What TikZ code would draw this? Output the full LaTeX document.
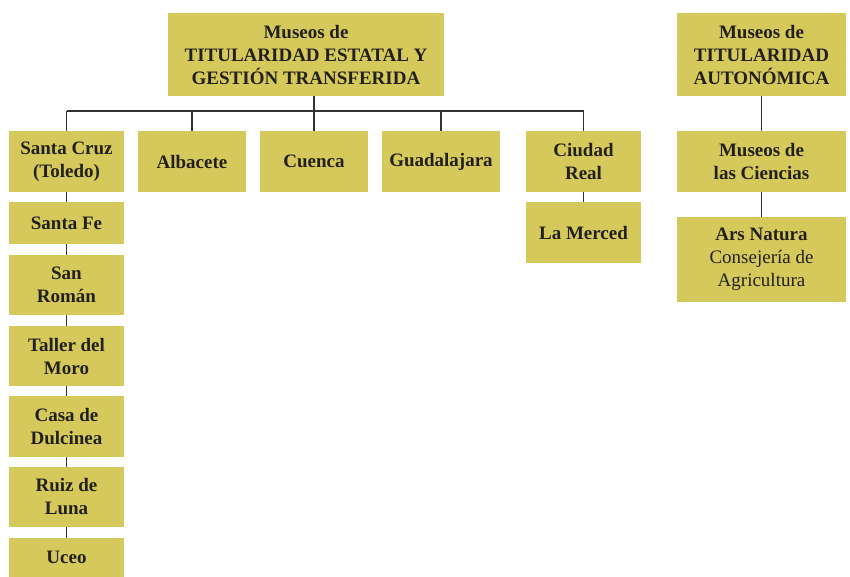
\documentclass[tikz,border=0pt]{standalone}
\usepackage{fontspec}
\setmainfont{Liberation Serif}
\definecolor{boxfill}{RGB}{214,201,92}
\definecolor{linec}{RGB}{50,50,50}
\definecolor{txt}{RGB}{35,32,28}
\tikzset{
  box/.style={fill=boxfill, draw=none, inner sep=0pt, align=center, text=txt,
    font=\fontsize{19}{23}\selectfont\bfseries},
  conn/.style={draw=linec, line width=1.5pt}
}
\newcommand{\bx}[7]{% name, x1, y1, x2, y2, text
  \node[box, minimum width=#4-#2, minimum height=#5-#3] (#1) at ({(#2+#4)/2},{(#3+#5)/2}) {#6};}
\begin{document}
\begin{tikzpicture}[x=1pt,y=-1pt]
\useasboundingbox (0,0) rectangle (850,576);
\bx{top}{168}{13}{444}{96}{Museos de\\TITULARIDAD ESTATAL Y\\GESTIÓN TRANSFERIDA}{}
\bx{santacruz}{9}{131}{124}{192}{Santa Cruz\\(Toledo)}{}
\bx{albacete}{138}{131}{246}{192}{Albacete}{}
\bx{cuenca}{260}{131}{368}{192}{Cuenca}{}
\bx{guadalajara}{382}{131}{500}{192}{Guadalajara}{}
\bx{ciudad}{526}{131}{641}{192}{Ciudad\\Real}{}
\bx{santafe}{9}{202}{124}{244}{Santa Fe}{}
\bx{sanroman}{9}{255}{124}{315}{San\\Román}{}
\bx{taller}{9}{326}{124}{386}{Taller del\\Moro}{}
\bx{casa}{9}{396}{124}{457}{Casa de\\Dulcinea}{}
\bx{ruiz}{9}{467}{124}{527}{Ruiz de\\Luna}{}
\bx{uceo}{9}{538}{124}{577}{Uceo}{}
\bx{merced}{526}{202}{641}{263}{La Merced}{}
\bx{auto}{677}{13}{846}{96}{Museos de\\TITULARIDAD\\AUTONÓMICA}{}
\bx{ciencias}{677}{131}{846}{192}{Museos de\\las Ciencias}{}
\bx{ars}{677}{217}{846}{302}{Ars Natura\\{\mdseries Consejería de}\\{\mdseries Agricultura}}{}
\coordinate (bus) at (0,111);
\draw[conn] (top.south -| cuenca.north) -- (cuenca.north);
\draw[conn] (santacruz.north |- bus) -- (ciudad.north |- bus);
\foreach \n in {santacruz,albacete,guadalajara,ciudad}
  \draw[conn] (\n.north |- bus) -- (\n.north);
\draw[conn] (santacruz) -- (santafe);
\draw[conn] (santafe) -- (sanroman);
\draw[conn] (sanroman) -- (taller);
\draw[conn] (taller) -- (casa);
\draw[conn] (casa) -- (ruiz);
\draw[conn] (ruiz) -- (uceo);
\draw[conn] (ciudad) -- (merced);
\draw[conn] (auto) -- (ciencias);
\draw[conn] (ciencias) -- (ars);
\end{tikzpicture}
\end{document}
